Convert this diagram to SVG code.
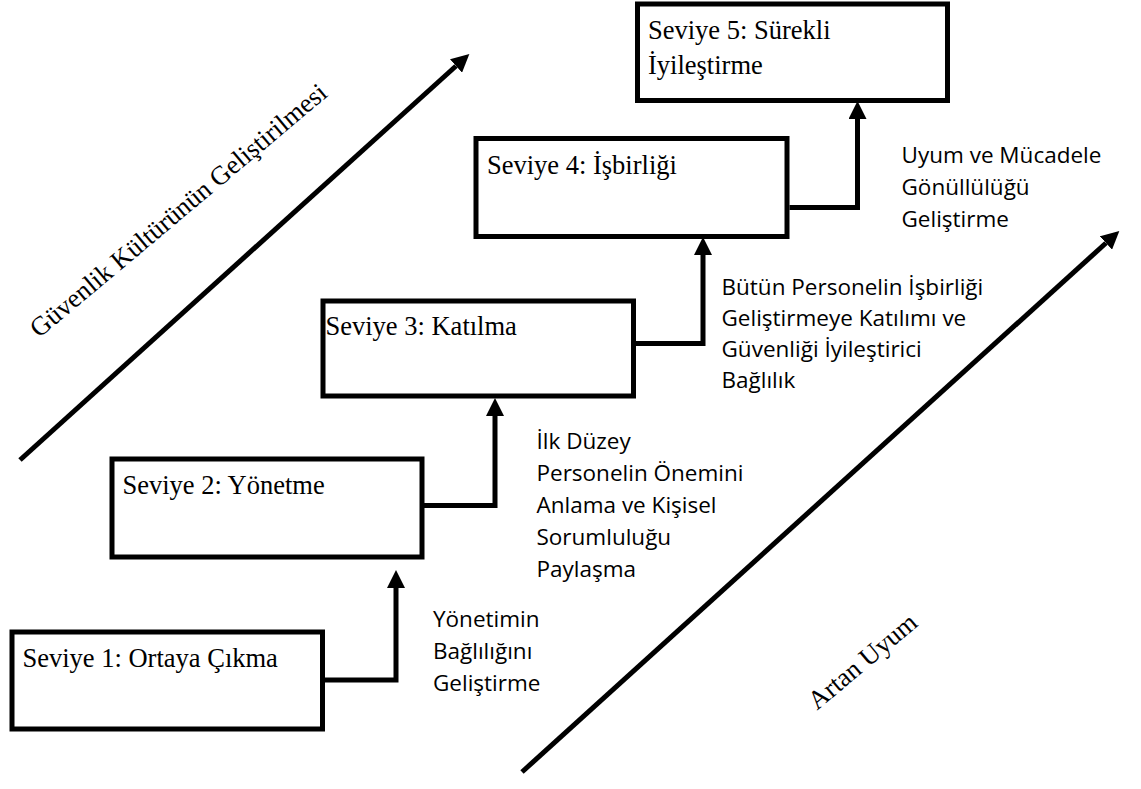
<svg xmlns="http://www.w3.org/2000/svg" width="1141" height="789" viewBox="0 0 1141 789">
  <style>
    .box { fill: #ffffff; stroke: #000000; stroke-width: 5; }
    .title { font-family: "Liberation Serif", "Times New Roman", serif; font-size: 26.5px; fill: #000000; }
    .note { font-family: "Open Sans", "Noto Sans", sans-serif; font-size: 22.5px; fill: #000000; }
    .link { fill: none; stroke: #000000; stroke-width: 5; stroke-linejoin: miter; }
    .trend { fill: none; stroke: #000000; stroke-width: 5; }
  </style>
  <defs>
    <marker id="head" markerUnits="userSpaceOnUse" markerWidth="18" markerHeight="18" viewBox="0 -8 16 16" refX="0" refY="0" orient="auto">
      <path d="M0,-8 L16,0 L0,8 Z" fill="#000000"/>
    </marker>
  </defs>

  <rect width="1141" height="789" fill="#ffffff"/>

  <!-- long diagonal trend arrows -->
  <g id="trends">
    <path class="trend" d="M20,460 L456,66" marker-end="url(#head)"/>
    <path class="trend" d="M522,772 L1106,243" marker-end="url(#head)"/>
    <text class="title" x="184" y="217" text-anchor="middle" transform="rotate(-40 184 217)">Güvenlik Kültürünün Geliştirilmesi</text>
    <text class="title" x="868" y="668" text-anchor="middle" transform="rotate(-40 868 668)">Artan Uyum</text>
  </g>

  <!-- step connectors -->
  <g id="connectors">
    <path class="link" d="M325,680 L396,680 L396,588" marker-end="url(#head)"/>
    <path class="link" d="M424,505.5 L495,505.5 L495,416" marker-end="url(#head)"/>
    <path class="link" d="M636,343.5 L703,343.5 L703,255" marker-end="url(#head)"/>
    <path class="link" d="M789.5,207.5 L857.5,207.5 L857.5,119" marker-end="url(#head)"/>
  </g>

  <!-- level boxes -->
  <g id="level1">
    <rect class="box" x="12" y="632" width="310.5" height="97"/>
    <text class="title" x="22.5" y="666.5">Seviye 1: Ortaya Çıkma</text>
  </g>
  <g id="level2">
    <rect class="box" x="112" y="459" width="310" height="98"/>
    <text class="title" x="122.5" y="493.5">Seviye 2: Yönetme</text>
  </g>
  <g id="level3">
    <rect class="box" x="323" y="301" width="310.5" height="95"/>
    <text class="title" x="325.5" y="335">Seviye 3: Katılma</text>
  </g>
  <g id="level4">
    <rect class="box" x="476" y="138.5" width="311" height="98"/>
    <text class="title" x="487" y="173.5">Seviye 4: İşbirliği</text>
  </g>
  <g id="level5">
    <rect class="box" x="637.5" y="4" width="310" height="96.5"/>
    <text class="title" x="648" y="38.5">Seviye 5: Sürekli</text>
    <text class="title" x="648" y="73.5">İyileştirme</text>
  </g>

  <!-- step descriptions -->
  <g id="step1-note">
    <text class="note" x="433" y="627">Yönetimin</text>
    <text class="note" x="433" y="659">Bağlılığını</text>
    <text class="note" x="433" y="690.5">Geliştirme</text>
  </g>
  <g id="step2-note">
    <text class="note" x="536.5" y="448.5">İlk Düzey</text>
    <text class="note" x="536.5" y="480.5">Personelin Önemini</text>
    <text class="note" x="536.5" y="512.5">Anlama ve Kişisel</text>
    <text class="note" x="536.5" y="544.5">Sorumluluğu</text>
    <text class="note" x="536.5" y="576.5">Paylaşma</text>
  </g>
  <g id="step3-note">
    <text class="note" x="721.5" y="295">Bütün Personelin İşbirliği</text>
    <text class="note" x="721.5" y="326">Geliştirmeye Katılımı ve</text>
    <text class="note" x="721.5" y="357">Güvenliği İyileştirici</text>
    <text class="note" x="721.5" y="388">Bağlılık</text>
  </g>
  <g id="step4-note">
    <text class="note" x="901.5" y="163">Uyum ve Mücadele</text>
    <text class="note" x="901.5" y="195">Gönüllülüğü</text>
    <text class="note" x="901.5" y="226.5">Geliştirme</text>
  </g>
</svg>
